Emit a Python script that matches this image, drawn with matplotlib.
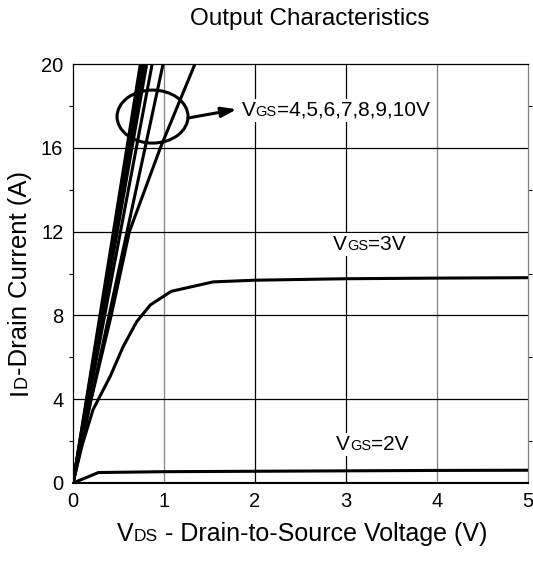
import matplotlib
matplotlib.use("Agg")
import matplotlib.pyplot as plt
from matplotlib.patches import Ellipse, Rectangle
from matplotlib.ticker import MultipleLocator
from matplotlib.transforms import offset_copy, Bbox

plt.rcParams['font.family'] = ['Liberation Sans', 'DejaVu Sans']

# ---- data ----
vds_zero = [0, 5]
id_zero = [0, 0]

vds_2v = [0, 0.28, 1.0, 2.0, 3.0, 4.0, 5.0]
id_2v = [0, 0.50, 0.54, 0.56, 0.58, 0.60, 0.61]

vds_3v = [0, 0.10, 0.22, 0.41, 0.55, 0.70, 0.85, 1.08, 1.54, 2.0, 3.0, 4.0, 5.0]
id_3v = [0, 1.8, 3.5, 5.1, 6.5, 7.7, 8.5, 9.15, 9.6, 9.68, 9.75, 9.78, 9.8]

vds_4v = [0, 0.20, 0.42, 0.62, 0.96, 1.34]
id_4v = [0, 4.0, 8.0, 12.0, 16.0, 20.0]

vds_5v = [0, 0.99]
id_5v = [0, 20.0]
vds_6v = [0, 0.87]
id_6v = [0, 20.0]
vds_7v = [0, 0.81]
id_7v = [0, 20.0]
vds_8v = [0, 0.78]
id_8v = [0, 20.0]
vds_9v = [0, 0.76]
id_9v = [0, 20.0]
vds_10v = [0, 0.74]
id_10v = [0, 20.0]

x_ticks = [0, 1, 2, 3, 4, 5]
y_ticks = [0, 4, 8, 12, 16, 20]

# ---- figure ----
fig = plt.figure(figsize=(5.33, 5.64), dpi=100)
ax = fig.add_axes([73/533, 1 - 483/564, (528 - 73)/533, (483 - 64)/564])
renderer = fig.canvas.get_renderer()


def multi_text(x, y, parts, transform, rotation=0, center=False, background=False):
    """Draw consecutive text pieces [(text, size)] on one shared baseline."""
    texts = []
    trans = transform
    for s, size in parts:
        t = fig.text(x, y, s, fontsize=size, transform=trans, rotation=rotation,
                     ha='left', va='baseline', rotation_mode='anchor', zorder=6)
        texts.append(t)
        ext = t.get_window_extent(renderer)
        step = (ext.width if rotation == 0 else ext.height) * 72 / fig.dpi
        if rotation == 0:
            trans = offset_copy(trans, fig=fig, x=step, y=0, units='points')
        else:
            trans = offset_copy(trans, fig=fig, x=0, y=step, units='points')
    if center:
        exts = [t.get_window_extent(renderer) for t in texts]
        total = sum((e.width if rotation == 0 else e.height) for e in exts)
        shift = -total / 2 * 72 / fig.dpi
        for t in texts:
            if rotation == 0:
                t.set_transform(offset_copy(t.get_transform(), fig=fig, x=shift, y=0, units='points'))
            else:
                t.set_transform(offset_copy(t.get_transform(), fig=fig, x=0, y=shift, units='points'))
    if background:
        bb = Bbox.union([t.get_window_extent(renderer) for t in texts])
        pad = 2
        fig.patches.append(Rectangle((bb.x0 - pad, bb.y0 - pad), bb.width + 2 * pad,
                                     bb.height + 2 * pad, transform=None,
                                     facecolor='white', edgecolor='none', zorder=5))
    return texts


lw = 2.2
series = [(vds_zero, id_zero), (vds_2v, id_2v), (vds_3v, id_3v), (vds_4v, id_4v),
          (vds_5v, id_5v), (vds_6v, id_6v), (vds_7v, id_7v), (vds_8v, id_8v),
          (vds_9v, id_9v), (vds_10v, id_10v)]
for xs, ys in series:
    ax.plot(xs, ys, color='black', lw=lw, solid_capstyle='butt', zorder=3)

ax.set_xlim(0, 5)
ax.set_ylim(0, 20)
ax.set_xticks(x_ticks)
ax.set_yticks(y_ticks)
ax.yaxis.set_minor_locator(MultipleLocator(2))
ax.tick_params(axis='both', which='major', length=0, labelsize=14.5)
ax.tick_params(axis='y', which='major', pad=7)
ax.tick_params(axis='x', which='major', pad=6.5)
ax.tick_params(axis='y', which='minor', length=3, width=0.8, right=True, direction='out')

# grid lines
grid_x_colors = {1: '#808080', 2: 'black', 3: 'black', 4: '#808080'}
for xv, c in grid_x_colors.items():
    ax.axvline(xv, color=c, lw=0.9, zorder=1)
for yv in y_ticks[1:-1]:
    ax.axhline(yv, color='black', lw=0.9, zorder=1)

for side in ['top', 'left']:
    ax.spines[side].set_linewidth(0.9)
ax.spines['right'].set_linewidth(0.9)
ax.spines['right'].set_color('#808080')
ax.spines['bottom'].set_linewidth(1.5)

# annotations
ell = Ellipse((0.874, 17.49), 0.78, 2.53, fill=False, edgecolor='black', lw=2.2, zorder=4)
ax.add_patch(ell)
ax.annotate('', xy=(1.80, 17.84), xytext=(1.262, 17.42),
            arrowprops=dict(arrowstyle='-|>,head_length=0.9,head_width=0.3',
                            color='black', lw=2.2, shrinkA=0, shrinkB=0), zorder=4)

ann_size = 15
sub_size = 10.5
multi_text(1.854, 17.9 - 0.36, [('V', ann_size), ('GS', sub_size), ('=4,5,6,7,8,9,10V', ann_size)],
           ax.transData, background=True)
multi_text(2.86, 11.46 - 0.36, [('V', ann_size), ('GS', sub_size), ('=3V', ann_size)],
           ax.transData, background=True)
multi_text(2.89, 1.93 - 0.36, [('V', ann_size), ('GS', sub_size), ('=2V', ann_size)],
           ax.transData, background=True)

fig.text(310/533, 1 - 25/564, 'Output Characteristics', fontsize=17.5,
         ha='center', va='baseline')
multi_text(302/533, 1 - 541/564, [('V', 18), ('DS', 12.5), (' - Drain-to-Source Voltage (V)', 18)],
           fig.transFigure, center=True)
multi_text(27/533, 1 - 283/564, [('I', 18.5), ('D', 13), ('-Drain Current (A)', 18.5)],
           fig.transFigure, rotation=90, center=True)

fig.savefig('out.png', dpi=100)
